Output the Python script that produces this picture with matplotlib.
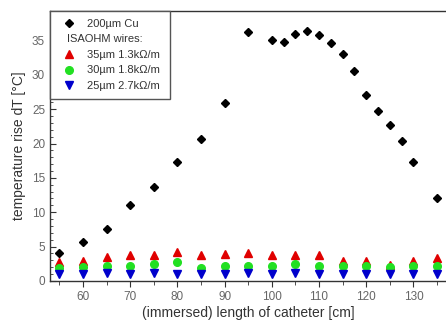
import numpy as np
import matplotlib
matplotlib.use("Agg")
from matplotlib import pyplot as plt
from matplotlib.ticker import MultipleLocator

plt.rcParams['font.family'] = ['Liberation Sans', 'DejaVu Sans']

# copper wire (200um)
cu_x = [55, 60, 65, 70, 75, 80, 85, 90, 95, 100, 102.5, 105, 107.5, 110,
        112.5, 115, 117.5, 120, 122.5, 125, 127.5, 130, 135]
cu_y = [4.0, 5.7, 7.5, 11.1, 13.7, 17.3, 20.6, 25.9, 36.3, 35.1, 34.8, 35.9, 36.4, 35.8,
        34.6, 33.1, 30.5, 27.0, 24.8, 22.7, 20.4, 17.3, 12.1]

# ISAOHM wires
wire_x = [55, 60, 65, 70, 75, 80, 85, 90, 95, 100, 105, 110, 115, 120, 125, 130, 135]
w35_y = [2.8, 2.9, 3.5, 3.7, 3.8, 4.2, 3.8, 3.9, 4.1, 3.7, 3.7, 3.7, 2.9, 2.9, 2.3, 2.9, 3.4]
w30_y = [1.9, 2.0, 2.2, 2.2, 2.4, 2.7, 1.9, 2.2, 2.2, 2.2, 2.4, 2.1, 2.1, 2.1, 2.0, 2.1, 2.1]
w25_y = [1.0, 1.0, 1.1, 1.0, 1.1, 1.0, 1.0, 1.0, 1.2, 1.0, 1.1, 1.0, 1.0, 1.0, 1.0, 1.0, 1.0]

fig = plt.figure(figsize=(4.46, 3.24), dpi=100)
ax = fig.add_axes([0.112, 0.133, 0.888, 0.833])

ax.plot(cu_x, cu_y, 'D', color='black', markersize=4.3, label='200µm Cu')
ax.plot([], [], ' ', label='ISAOHM wires:')
ax.plot(wire_x, w35_y, '^', color='#e00000', markersize=6, label='35µm 1.3kΩ/m')
ax.plot(wire_x, w30_y, 'o', color='#22e022', markersize=5.5, label='30µm 1.8kΩ/m')
ax.plot(wire_x, w25_y, 'v', color='#0000cc', markersize=6, label='25µm 2.7kΩ/m')

ax.set_xlim(53, 136.9)
ax.set_ylim(0, 39.3)
ax.spines['right'].set_visible(False)
for s in ['left', 'bottom', 'top']:
    ax.spines[s].set_color('#333333')
    ax.spines[s].set_linewidth(1.0)

ax.xaxis.set_major_locator(MultipleLocator(10))
ax.xaxis.set_minor_locator(MultipleLocator(5))
ax.yaxis.set_major_locator(MultipleLocator(5))
ax.yaxis.set_minor_locator(MultipleLocator(1))
ax.tick_params(axis='x', which='both', direction='out', colors='#333333', labelcolor='#666666', labelsize=8.5)
ax.tick_params(axis='x', which='major', length=4)
ax.tick_params(axis='x', which='minor', length=3)
ax.tick_params(axis='y', which='both', direction='in', colors='#333333', labelcolor='#666666', labelsize=8.5)
ax.tick_params(axis='y', which='major', length=4)
ax.tick_params(axis='y', which='minor', length=2)
ax.tick_params(top=False, right=False, which='both')

ax.set_xlabel('(immersed) length of catheter [cm]', fontsize=10, color='#333333', labelpad=2)
ax.set_ylabel('temperature rise dT [°C]', fontsize=10, color='#333333', labelpad=4)

leg = ax.legend(loc='upper left', borderaxespad=0, fancybox=False, fontsize=8,
                edgecolor='#555555', framealpha=1, handletextpad=0.6, labelspacing=0.5,
                handlelength=2.0, borderpad=0.7)
leg.get_frame().set_linewidth(1.0)
for t in leg.get_texts():
    t.set_color('#333333')
# the "ISAOHM wires:" heading starts under the markers, not in the text column
leg.get_texts()[1].set_x(-20)

fig.savefig('out.png', dpi=100)
